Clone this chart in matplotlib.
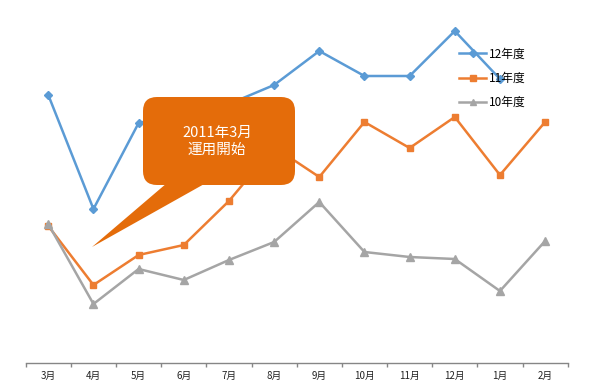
import matplotlib
matplotlib.use("Agg")
import matplotlib.pyplot as plt
from matplotlib.patches import FancyBboxPatch, Polygon
import matplotlib.transforms as mtransforms
import numpy as np

plt.rcParams['font.family'] = ['Noto Sans CJK JP', 'DejaVu Sans']

months = ["3月", "4月", "5月", "6月", "7月", "8月", "9月", "10月", "11月", "12月", "1月", "2月"]
fy12 = [268, 154, 240, 250, 259, 278, 312, 287, 287, 332, 284]
fy11 = [137, 78, 108, 118, 162, 216, 186, 241, 215, 246, 188, 241]
fy10 = [139, 59, 94, 83, 103, 121, 161, 111, 106, 104, 72, 122]

W, H = 598, 386
fig = plt.figure(figsize=(W / 100, H / 100), dpi=100)
ax = fig.add_axes([25.7 / W, (H - 363) / H, 542 / W, 340 / H])

x = np.arange(len(months))
ax.plot(x[:len(fy12)], fy12, color="#5B9BD5", lw=1.8, marker="D", ms=4.5, label="12年度", zorder=3)
ax.plot(x, fy11, color="#ED7D31", lw=1.8, marker="s", ms=5, label="11年度", zorder=3)
ax.plot(x, fy10, color="#A5A5A5", lw=1.8, marker="^", ms=5.5, label="10年度", zorder=3)

ax.set_xlim(-0.5, len(months) - 0.5)
ax.set_ylim(0, 340)
for s in ["top", "right", "left"]:
    ax.spines[s].set_visible(False)
ax.spines["bottom"].set_color("#868686")
ax.spines["bottom"].set_linewidth(1.0)
ax.set_yticks([])
ax.set_xticks(np.arange(-0.5, len(months), 1.0))
ax.set_xticklabels([])
ax.tick_params(axis="x", which="major", length=3, color="#868686", width=1.0)
ax.set_xticks(x, minor=True)
ax.set_xticklabels(months, minor=True, fontsize=7, color="#222222")
ax.tick_params(axis="x", which="minor", length=0, pad=6)

leg = ax.legend(loc="upper left", bbox_to_anchor=(459 / W, 1 - 47.5 / H), bbox_transform=fig.transFigure,
                frameon=False, fontsize=8.5, handlelength=2.3, handletextpad=0.25, labelspacing=0.95,
                borderaxespad=0, borderpad=0, markerscale=0.9)

# callout shape in image pixel coordinates
tr = mtransforms.Affine2D().scale(1 / W, -1 / H).translate(0, 1) + fig.transFigure
call_color = "#E46C0A"
box = FancyBboxPatch((143, 97), 152, 88, boxstyle="round,pad=0,rounding_size=14",
                     transform=tr, facecolor=call_color, edgecolor="none", zorder=5)
fig.add_artist(box)
tail = Polygon([(167, 183), (206, 183), (92, 247)], closed=True, transform=tr,
               facecolor=call_color, edgecolor="none", zorder=5)
fig.add_artist(tail)
fig.text(217 / W, 1 - 141 / H, "2011年3月\n運用開始", color="white", fontsize=10.5,
         ha="center", va="center", linespacing=1.25, zorder=6)

fig.savefig("out.png", dpi=100)
